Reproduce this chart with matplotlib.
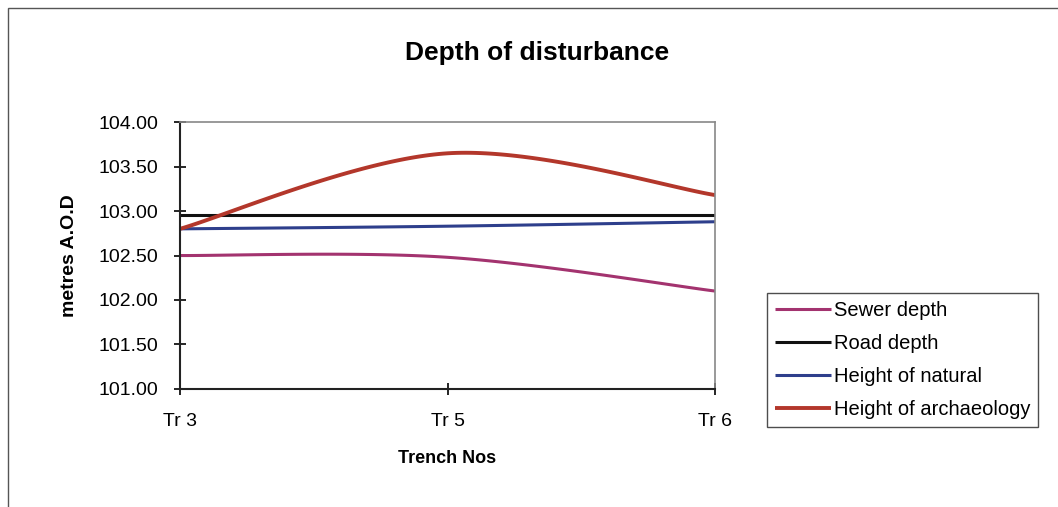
import numpy as np
import matplotlib
matplotlib.use("Agg")
import matplotlib.pyplot as plt
from matplotlib.patches import Rectangle

plt.rcParams['font.family'] = ['Liberation Sans', 'DejaVu Sans']

# data
trenches = ["Tr 3", "Tr 5", "Tr 6"]
sewer_depth = [102.50, 102.48, 102.10]
road_depth = [102.96, 102.96, 102.96]
height_natural = [102.80, 102.83, 102.88]
height_archaeology = [102.80, 103.65, 103.18]

series = [
    ("Sewer depth", sewer_depth, "#a3336f", 2.2),
    ("Road depth", road_depth, "#111111", 2.2),
    ("Height of natural", height_natural, "#2e3f8c", 2.2),
    ("Height of archaeology", height_archaeology, "#b3372b", 2.8),
]


def smooth(x, y, n=60):
    """Excel style smoothed line (bezier through the points)"""
    x = np.asarray(x, float)
    y = np.asarray(y, float)
    pts = np.column_stack([x, y])
    out = []
    for i in range(len(pts) - 1):
        p0 = pts[i - 1] if i > 0 else pts[i]
        p1 = pts[i]
        p2 = pts[i + 1]
        p3 = pts[i + 2] if i + 2 < len(pts) else pts[i + 1]
        c1 = p1 + (p2 - p0) / 6
        c2 = p2 - (p3 - p1) / 6
        t = np.linspace(0, 1, n)[:, None]
        seg = ((1 - t) ** 3) * p1 + 3 * ((1 - t) ** 2) * t * c1 + 3 * (1 - t) * t ** 2 * c2 + t ** 3 * p2
        out.append(seg if i == 0 else seg[1:])
    out = np.vstack(out)
    return out[:, 0], out[:, 1]


fig = plt.figure(figsize=(10.58, 5.07), dpi=100)
fig.patches.append(Rectangle((0.008, -0.1), 1.0, 1.084, transform=fig.transFigure,
                             fill=False, edgecolor="#555555", linewidth=1.0))

ax = fig.add_axes([0.170, 0.233, 0.506, 0.526])
xs = np.arange(len(trenches))
for label, vals, color, lw in series:
    sx, sy = smooth(xs, vals)
    ax.plot(sx, sy, color=color, linewidth=lw, label=label, solid_capstyle="butt")

ax.set_xlim(0, len(trenches) - 1)
ax.set_ylim(101.0, 104.0)
ax.set_yticks(np.arange(101.0, 104.01, 0.5))
ax.set_yticklabels([f"{v:.2f}" for v in np.arange(101.0, 104.01, 0.5)])
ax.set_xticks(xs)
ax.set_xticklabels(trenches)
ax.tick_params(axis="y", direction="inout", length=9, width=1.2, labelsize=14, pad=11)
ax.tick_params(axis="x", direction="inout", length=9, width=1.2, labelsize=14, pad=13)

for side in ["left", "bottom"]:
    ax.spines[side].set_color("#222222")
    ax.spines[side].set_linewidth(1.5)
for side in ["top", "right"]:
    ax.spines[side].set_color("#888888")
    ax.spines[side].set_linewidth(1.2)

ax.set_ylabel("metres A.O.D", fontsize=14, fontweight="bold", labelpad=15)
ax.set_xlabel("Trench Nos", fontsize=13, fontweight="bold", labelpad=14.5)
fig.text(0.508, 0.895, "Depth of disturbance", ha="center", va="center",
         fontsize=19, fontweight="bold")

leg = fig.legend(loc="upper left", bbox_to_anchor=(0.725, 0.422), fontsize=14.5,
                 frameon=True, fancybox=False, handlelength=2.8, handletextpad=0.1,
                 labelspacing=0.7, borderpad=0.4, borderaxespad=0)
leg.get_frame().set_edgecolor("#222222")
leg.get_frame().set_linewidth(1.0)

fig.savefig("out.png", dpi=100)
